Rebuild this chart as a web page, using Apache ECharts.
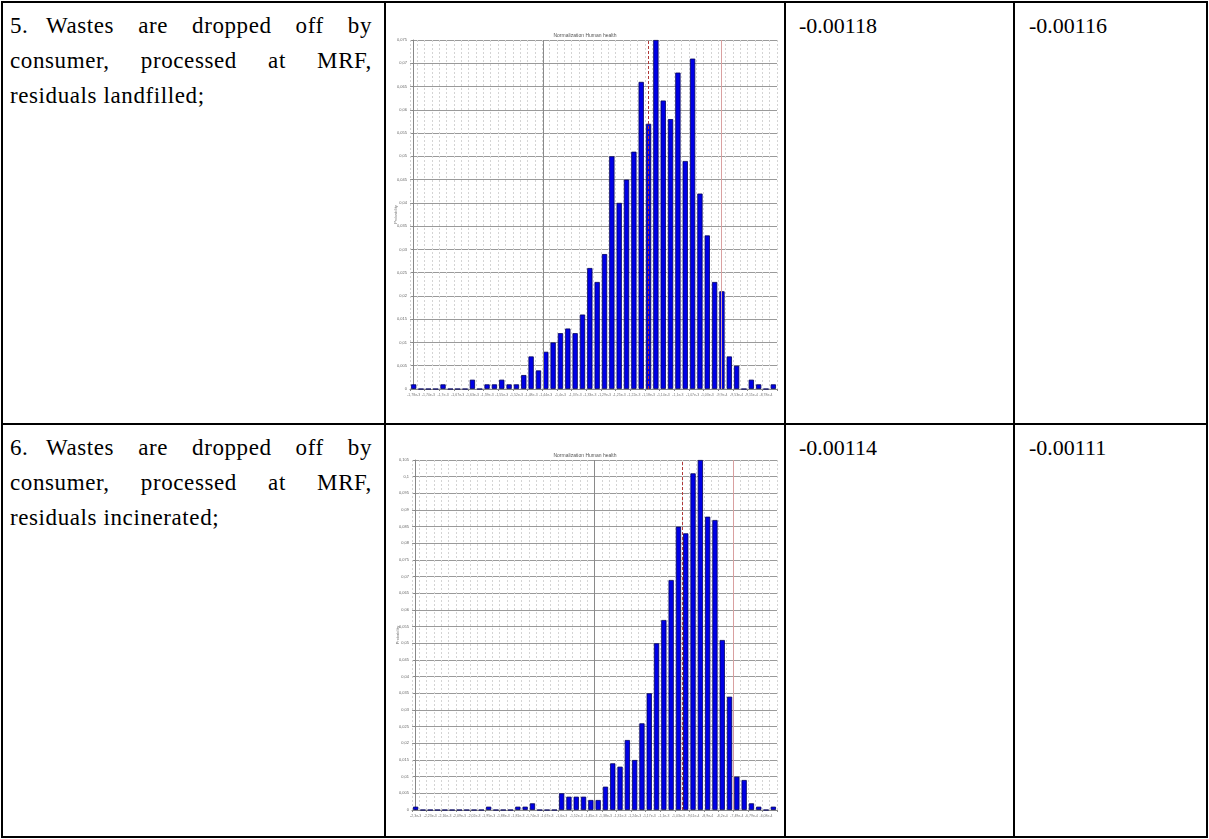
<!DOCTYPE html>
<html>
<head>
<meta charset="utf-8">
<script src="https://cdn.jsdelivr.net/npm/echarts@6/dist/echarts.min.js"></script>
<style>
  html, body { margin: 0; padding: 0; background: #fff; }
  body { width: 1209px; height: 839px; position: relative; overflow: hidden; font-family: "Liberation Serif", "DejaVu Serif", serif; }
  .hl { position: absolute; height: 2px; background: #000; }
  .vl { position: absolute; width: 2px; background: #000; }
  .cell { position: absolute; font-size: 23px; line-height: 35px; color: #000; letter-spacing: 0.6px; }
  .row { display: flex; white-space: nowrap; }
  .words { display: flex; justify-content: space-between; flex: 1; }
  .num { position: absolute; font-size: 22px; line-height: 35px; color: #000; }
  .chart { position: absolute; }
</style>
</head>
<body>
<script>
// ---------------- DATA ----------------
const chartTitle = "Normalization Human health";
const yAxisName = "Probability";

// Row 5 chart (bins 0..49)
const probs1 = [0.001,0,0,0,0.001,0,0,0,0.002,0,
                0.001,0.001,0.002,0.001,0.001,0.003,0.007,0.004,0.008,0.010,
                0.012,0.013,0.012,0.016,0.026,0.023,0.029,0.050,0.040,0.045,
                0.051,0.066,0.057,0.075,0.062,0.058,0.068,0.049,0.071,0.042,
                0.033,0.023,0.021,0.007,0.005,0,0.002,0.001,0,0.001];
const xTicks1 = ["-1,78e-3","-1,74e-3","-1,7e-3","-1,67e-3","-1,63e-3","-1,59e-3","-1,55e-3","-1,52e-3",
                 "-1,48e-3","-1,44e-3","-1,4e-3","-1,37e-3","-1,33e-3","-1,29e-3","-1,25e-3","-1,22e-3",
                 "-1,18e-3","-1,14e-3","-1,1e-3","-1,07e-3","-1,03e-3","-9,9e-4","-9,53e-4","-9,15e-4","-8,78e-4"];
const yMax1 = 0.075;
const markers1 = [17.6, 32.0, 41.9];   // bin positions of vertical reference lines

// Row 6 chart
const probs2 = [0.001,0,0,0,0,0,0,0,0,0,
                0.001,0,0,0,0.001,0.001,0.002,0,0,0,
                0.005,0.004,0.004,0.004,0.003,0.003,0.007,0.014,0.013,0.021,
                0.015,0.026,0.035,0.050,0.057,0.069,0.085,0.083,0.101,0.105,
                0.088,0.087,0.051,0.034,0.010,0.009,0.002,0.001,0,0.001];
const xTicks2 = ["-2,3e-3","-2,23e-3","-2,16e-3","-2,09e-3","-2,02e-3","-1,95e-3","-1,88e-3","-1,81e-3",
                 "-1,74e-3","-1,67e-3","-1,6e-3","-1,52e-3","-1,45e-3","-1,38e-3","-1,31e-3","-1,24e-3",
                 "-1,17e-3","-1,1e-3","-1,03e-3","-9,61e-4","-8,9e-4","-8,2e-4","-7,49e-4","-6,79e-4","-6,08e-4"];
const yMax2 = 0.105;
const markers2 = [24.4, 36.5, 43.5];

// Table texts
const rowTexts = [
  { num: "5.", lines: [["Wastes","are","dropped","off","by"], ["consumer,","processed","at","MRF,"]], last: "residuals landfilled;", v1: "-0.00118", v2: "-0.00116" },
  { num: "6.", lines: [["Wastes","are","dropped","off","by"], ["consumer,","processed","at","MRF,"]], last: "residuals incinerated;", v1: "-0.00114", v2: "-0.00111" }
];

// ---------------- TABLE ----------------
const X = { left: 1, c1: 384, c2: 784, c3: 1013, right: 1206 };
const Y = { top: 1, mid: 423, bottom: 836 };
function addDiv(cls, style, html) {
  const d = document.createElement('div');
  d.className = cls;
  Object.assign(d.style, style);
  if (html !== undefined) d.innerHTML = html;
  document.body.appendChild(d);
  return d;
}
[Y.top, Y.mid, Y.bottom].forEach(y => addDiv('hl', { left: X.left + 'px', top: y + 'px', width: (X.right - X.left + 2) + 'px' }));
[X.left, X.c1, X.c2, X.c3, X.right].forEach(x => addDiv('vl', { left: x + 'px', top: Y.top + 'px', height: (Y.bottom - Y.top + 2) + 'px' }));

const rowTops = [Y.top, Y.mid];
rowTexts.forEach((r, i) => {
  const t = rowTops[i] + 7;
  const cell = addDiv('cell', { left: (X.left + 9) + 'px', top: t + 'px', width: (X.c1 - X.left - 21) + 'px' });
  const l1 = '<div class="row"><span style="display:inline-block;width:36px">' + r.num + '</span><span class="words">' +
           r.lines[0].map(w => '<span>' + w + '</span>').join('') + '</span></div>';
  const l2 = '<div class="row"><span class="words">' + r.lines[1].map(w => '<span>' + w + '</span>').join('') + '</span></div>';
  const l3 = '<div>' + r.last + '</div>';
  cell.innerHTML = l1 + l2 + l3;
  addDiv('num', { left: (X.c2 + 15) + 'px', top: t + 'px' }, r.v1);
  addDiv('num', { left: (X.c3 + 16) + 'px', top: t + 'px' }, r.v2);
});

// ---------------- CHARTS ----------------
function makeChart(el, probs, ticks, yMax, markers, grid, titleTop) {
  const cats = probs.map((_, i) => String(i));
  const chart = echarts.init(el, null, { renderer: 'canvas' });
  chart.setOption({
    animation: false,
    title: {
      text: chartTitle, left: 'center', top: titleTop,
      textStyle: { fontSize: 5, fontWeight: 'normal', color: '#555', fontFamily: 'Liberation Sans' }
    },
    grid: Object.assign({ containLabel: false, outerBoundsMode: 'none' }, grid),
    xAxis: [{
      type: 'category', data: cats,
      axisLine: { lineStyle: { color: '#888', width: 1 } },
      axisTick: { show: true, interval: 1, length: 2, lineStyle: { color: '#888' } },
      axisLabel: {
        interval: 1, fontSize: 3.5, color: '#777', margin: 4, fontFamily: 'Liberation Sans',
        formatter: (v, idx) => ticks[idx / 2] || ''
      },
      splitLine: { show: true, interval: 0, lineStyle: { color: '#d4d4d4', type: [2, 2], width: 1 } }
    }, {
      type: 'value', min: -0.5, max: 49.5, show: false
    }],
    yAxis: {
      type: 'value', min: 0, max: yMax, interval: 0.005,
      name: yAxisName, nameLocation: 'middle', nameGap: 12, nameRotate: 90, nameMoveOverlap: false,
      nameTextStyle: { fontSize: 4, color: '#777', fontFamily: 'Liberation Sans' },
      axisLine: { show: true, lineStyle: { color: '#888' } },
      axisTick: { show: true, length: 2, lineStyle: { color: '#888' } },
      axisLabel: {
        fontSize: 4, color: '#666', margin: 3, fontFamily: 'Liberation Sans',
        formatter: v => v === 0 ? '0' : String(+v.toFixed(3)).replace('.', ',')
      },
      splitLine: { show: true, lineStyle: { color: '#9a9a9a', width: 1 } }
    },
    series: [{
      type: 'bar', data: probs, barWidth: '72%',
      itemStyle: { color: '#0000e6', borderColor: '#00005a', borderWidth: 0.8 }
    }, {
      type: 'line', xAxisIndex: 1, data: [], silent: true,
      markLine: {
        symbol: 'none', silent: true, label: { show: false },
        data: [
          { xAxis: markers[0], lineStyle: { color: '#8a8a8a', type: 'solid', width: 1 } },
          { xAxis: markers[1], lineStyle: { color: '#b03a3a', type: [3, 2], width: 1 } },
          { xAxis: markers[2], lineStyle: { color: '#d9a0a0', type: 'solid', width: 1 } }
        ]
      }
    }]
  });
  return chart;
}

const c1 = addDiv('chart', { left: (X.c1 + 2) + 'px', top: (Y.top + 2) + 'px', width: (X.c2 - X.c1 - 2) + 'px', height: (Y.mid - Y.top - 2) + 'px' });
const c2 = addDiv('chart', { left: (X.c1 + 2) + 'px', top: (Y.mid + 2) + 'px', width: (X.c2 - X.c1 - 2) + 'px', height: (Y.bottom - Y.mid - 2) + 'px' });
makeChart(c1, probs1, xTicks1, yMax1, markers1, { left: 24, right: 7, top: 37, bottom: 34 }, 25);
makeChart(c2, probs2, xTicks2, yMax2, markers2, { left: 26, right: 7, top: 35, bottom: 26 }, 23);
</script>
</body>
</html>
